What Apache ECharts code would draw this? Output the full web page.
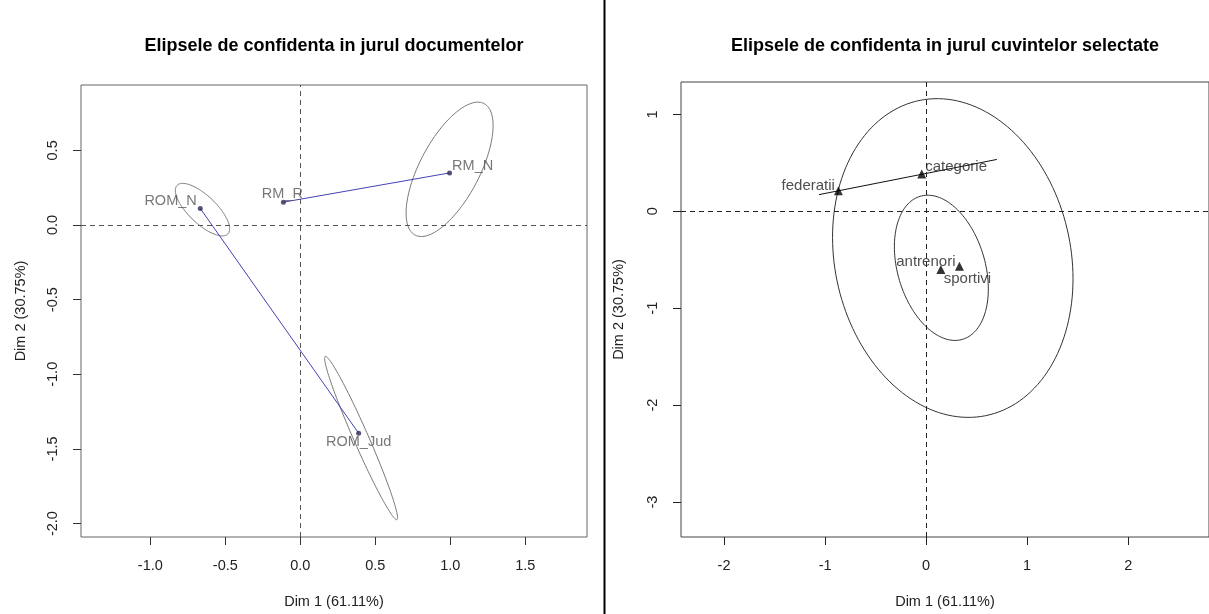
<!DOCTYPE html>
<html>
<head>
<meta charset="utf-8">
<script src="https://cdn.jsdelivr.net/npm/echarts@6/dist/echarts.min.js"></script>
<style>
html,body{margin:0;padding:0;background:#fff;}
#chart{width:1209px;height:614px;}
</style>
</head>
<body>
<div id="chart"></div>
<script>
// ---------- Data ----------
// Left panel: documents
const docNames = ['ROM_N', 'RM_R', 'RM_N', 'ROM_Jud'];
const docX = [-0.667, -0.113, 0.995, 0.389];
const docY = [0.111, 0.153, 0.349, -1.395];
const docLinks = [['RM_R', 'RM_N'], ['ROM_N', 'ROM_Jud']];
// confidence ellipses: centre, half-extent on x, half-extent on y, correlation
const docEllNames = ['ROM_N', 'RM_N', 'ROM_Jud'];
const docEllCx = [-0.652, 0.995, 0.405];
const docEllCy = [0.103, 0.373, -1.427];
const docEllSx = [0.181, 0.290, 0.243];
const docEllSy = [0.176, 0.450, 0.547];
const docEllRho = [-0.73, 0.65, -0.975];
const docXTicks = [-1.0, -0.5, 0.0, 0.5, 1.0, 1.5];
const docYTicks = [-2.0, -1.5, -1.0, -0.5, 0.0, 0.5];

// Right panel: selected words
const wordNames = ['federatii', 'categorie', 'antrenori', 'sportivi'];
const wordX = [-0.868, -0.043, 0.146, 0.330];
const wordY = [0.213, 0.386, -0.601, -0.567];
const wordLineX = [-1.06, 0.70];
const wordLineY = [0.172, 0.535];
const wordEllCx = [0.264, 0.151];
const wordEllCy = [-0.482, -0.583];
const wordEllSx = [1.190, 0.465];
const wordEllSy = [1.644, 0.749];
const wordEllRho = [-0.13, -0.29];
const wordXTicks = [-2, -1, 0, 1, 2];
const wordYTicks = [-3, -2, -1, 0, 1];

const titleLeft = 'Elipsele de confidenta in jurul documentelor';
const titleRight = 'Elipsele de confidenta in jurul cuvintelor selectate';
const xTitle = 'Dim 1 (61.11%)';
const yTitle = 'Dim 2 (30.75%)';

// ---------- Presentation ----------
const FONT = '"Liberation Sans", Arial, sans-serif';
const docLabelLayout = {
  'ROM_N':   { position: 'left',   distance: 1, offset: [0, -7] },
  'RM_R':    { position: 'top',    distance: 0, offset: [-1, 2] },
  'RM_N':    { position: 'right',  distance: 0, offset: [0, -7] },
  'ROM_Jud': { position: 'bottom', distance: 0, offset: [0, -1] }
};
const wordLabelLayout = {
  'federatii': { position: 'left',   distance: 0, offset: [1, -5] },
  'categorie': { position: 'right',  distance: 0, offset: [-1, -7] },
  'antrenori': { position: 'top',    distance: 0, offset: [-15, 4] },
  'sportivi':  { position: 'bottom', distance: 0, offset: [8, 1] }
};

function ellipseRenderer(color) {
  return function (params, api) {
    const cx = api.value(0), cy = api.value(1), sx = api.value(2), sy = api.value(3), r = api.value(4);
    const k = Math.sqrt(1 - r * r);
    const pts = [];
    const n = 160;
    for (let i = 0; i < n; i++) {
      const t = 2 * Math.PI * i / n;
      pts.push(api.coord([cx + sx * Math.cos(t), cy + sy * (r * Math.cos(t) + k * Math.sin(t))]));
    }
    return { type: 'polygon', shape: { points: pts }, style: { fill: 'none', stroke: color, lineWidth: 1 } };
  };
}

function axisCommon(ticks, color, rotate) {
  return {
    type: 'value',
    splitLine: { show: false },
    axisLine: { show: false, onZero: false },
    axisTick: { show: true, customValues: ticks, length: 8, lineStyle: { color: color, width: 1 } },
    axisLabel: {
      customValues: ticks, margin: 21, rotate: rotate, color: '#222', fontSize: 14.5, fontFamily: FONT,
      formatter: v => (Math.abs(v) < 1e-9 ? 0 : v).toFixed(ticks.some(t => !Number.isInteger(t)) ? 1 : 0)
    },
    nameLocation: 'middle',
    nameTextStyle: { color: '#222', fontSize: 14.5, fontFamily: FONT }
  };
}

const docIdx = {};
docNames.forEach((n, i) => docIdx[n] = i);

const docPoints = docNames.map((n, i) => ({
  name: n, value: [docX[i], docY[i]],
  label: Object.assign({ show: true, formatter: '{b}', color: '#555', fontSize: 14.5, fontFamily: FONT }, docLabelLayout[n])
}));
const wordPoints = wordNames.map((n, i) => ({
  name: n, value: [wordX[i], wordY[i]],
  label: Object.assign({ show: true, formatter: '{b}', color: '#222', fontSize: 15, fontFamily: FONT }, wordLabelLayout[n])
}));

const series = [];
// Left panel: zero lines
series.push({
  type: 'line', xAxisIndex: 0, yAxisIndex: 0, data: [], silent: true,
  markLine: { silent: true, symbol: 'none', label: { show: false },
    lineStyle: { type: [5, 4], color: '#555', width: 1 },
    data: [{ xAxis: 0 }, { yAxis: 0 }] }
});
series.push({
  type: 'custom', xAxisIndex: 0, yAxisIndex: 0, silent: true, z: 3,
  renderItem: ellipseRenderer('#777'),
  encode: { x: 0, y: 1 },
  data: docEllNames.map((n, i) => [docEllCx[i], docEllCy[i], docEllSx[i], docEllSy[i], docEllRho[i]])
});
docLinks.forEach(([a, b]) => {
  series.push({
    type: 'line', xAxisIndex: 0, yAxisIndex: 0, symbol: 'none', silent: true, z: 4,
    lineStyle: { color: '#4343b5', width: 1 },
    data: [[docX[docIdx[a]], docY[docIdx[a]]], [docX[docIdx[b]], docY[docIdx[b]]]]
  });
});
series.push({
  type: 'scatter', xAxisIndex: 0, yAxisIndex: 0, symbol: 'circle', symbolSize: 5, z: 5,
  itemStyle: { color: '#2b2b55' }, data: docPoints
});

// Right panel
series.push({
  type: 'line', xAxisIndex: 1, yAxisIndex: 1, data: [], silent: true,
  markLine: { silent: true, symbol: 'none', label: { show: false },
    lineStyle: { type: [5, 4], color: '#222', width: 1 },
    data: [{ xAxis: 0 }, { yAxis: 0 }] }
});
series.push({
  type: 'custom', xAxisIndex: 1, yAxisIndex: 1, silent: true, z: 3,
  renderItem: ellipseRenderer('#333'),
  encode: { x: 0, y: 1 },
  data: wordEllCx.map((c, i) => [wordEllCx[i], wordEllCy[i], wordEllSx[i], wordEllSy[i], wordEllRho[i]])
});
series.push({
  type: 'line', xAxisIndex: 1, yAxisIndex: 1, symbol: 'none', silent: true, z: 4,
  lineStyle: { color: '#111', width: 1 },
  data: wordLineX.map((x, i) => [x, wordLineY[i]])
});
series.push({
  type: 'scatter', xAxisIndex: 1, yAxisIndex: 1, symbol: 'triangle', symbolSize: 9, z: 5,
  itemStyle: { color: '#000' }, data: wordPoints
});

const chart = echarts.init(document.getElementById('chart'), null, { renderer: 'canvas' });
chart.setOption({
  animation: false,
  backgroundColor: '#fff',
  grid: [
    { left: 81, top: 85, width: 506, height: 454, show: true, borderColor: '#666', borderWidth: 1, containLabel: false },
    { left: 681, top: 82, width: 528, height: 456, show: true, borderColor: '#444', borderWidth: 1, containLabel: false }
  ],
  xAxis: [
    Object.assign(axisCommon(docXTicks, '#333', 0), { gridIndex: 0, min: -1.462, max: 1.911, name: xTitle, nameGap: 57 }),
    Object.assign(axisCommon(wordXTicks, '#222', 0), { gridIndex: 1, min: -2.426, max: 2.80, name: xTitle, nameGap: 57 })
  ],
  yAxis: [
    Object.assign(axisCommon(docYTicks, '#333', 90), { gridIndex: 0, min: -2.09, max: 0.938, name: yTitle, nameGap: 53 }),
    Object.assign(axisCommon(wordYTicks, '#222', 90), { gridIndex: 1, min: -3.36, max: 1.334, name: yTitle, nameGap: 55 })
  ],
  graphic: [
    { type: 'text', x: 334, y: 46, style: { text: titleLeft, align: 'center', verticalAlign: 'middle', font: 'bold 18px ' + FONT, fill: '#000' } },
    { type: 'text', x: 945, y: 46, style: { text: titleRight, align: 'center', verticalAlign: 'middle', font: 'bold 18px ' + FONT, fill: '#000' } },
    { type: 'line', shape: { x1: 604.5, y1: 0, x2: 604.5, y2: 614 }, style: { stroke: '#000', lineWidth: 2 } }
  ],
  series: series
});
</script>
</body>
</html>
